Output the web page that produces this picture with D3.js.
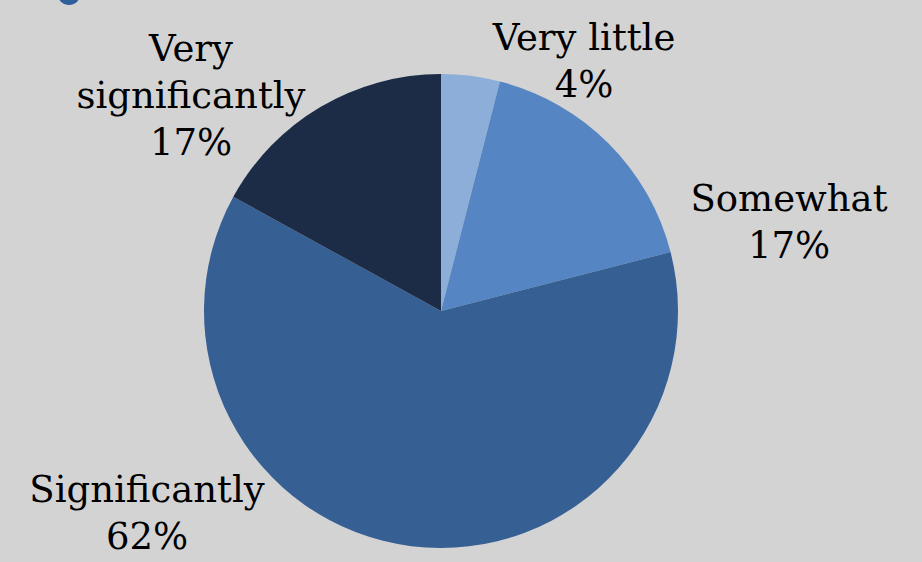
<!DOCTYPE html>
<html>
<head>
<meta charset="utf-8">
<script src="https://cdn.jsdelivr.net/npm/d3@7"></script>
<style>
  html, body { margin: 0; padding: 0; background: #d3d3d3; }
  svg { display: block; }
</style>
</head>
<body>
<svg id="chart" width="922" height="562"></svg>
<script>
// Share of responses per answer, in clockwise order from 12 o'clock
const categories = ["Very little", "Somewhat", "Significantly", "Very significantly"];
const shares = [4, 17, 62, 17];
const percentLabels = ["4%", "17%", "62%", "17%"];

const W = 922, H = 562;
const cx = 441, cy = 311, radius = 237;
const colors = ["#8daed9", "#5586c3", "#365f94", "#1c2c47"];

// label block centres (x, y of first baseline) and line breaks
const labelLayout = [
  { x: 584, y: 50, lines: ["Very little"] },
  { x: 789, y: 211, lines: ["Somewhat"] },
  { x: 147, y: 502, lines: ["Significantly"] },
  { x: 191, y: 61, lines: ["Very", "significantly"] }
];

const svg = d3.select("#chart");

svg.append("rect").attr("width", W).attr("height", H).attr("fill", "#d3d3d3");

// small heading marker cut off by the top edge
svg.append("ellipse")
  .attr("cx", 69).attr("cy", -8).attr("rx", 12).attr("ry", 13)
  .attr("fill", "#2f5f9b");

const pie = d3.pie().sort(null).value(d => d);
const arc = d3.arc().innerRadius(0).outerRadius(radius);

const g = svg.append("g").attr("transform", `translate(${cx},${cy})`);
g.selectAll("path")
  .data(pie(shares))
  .join("path")
  .attr("d", arc)
  .attr("fill", (d, i) => colors[i]);

const lineH = 47;
const labels = svg.append("g")
  .attr("font-family", "'DejaVu Serif', Georgia, serif")
  .attr("font-size", 37)
  .attr("fill", "#000")
  .attr("text-anchor", "middle");

categories.forEach((c, i) => {
  const L = labelLayout[i];
  const t = labels.append("text").attr("x", L.x).attr("y", L.y);
  const lines = L.lines.concat([percentLabels[i]]);
  lines.forEach((ln, j) => {
    t.append("tspan").attr("x", L.x).attr("y", L.y + j * lineH).text(ln);
  });
});
</script>
</body>
</html>
